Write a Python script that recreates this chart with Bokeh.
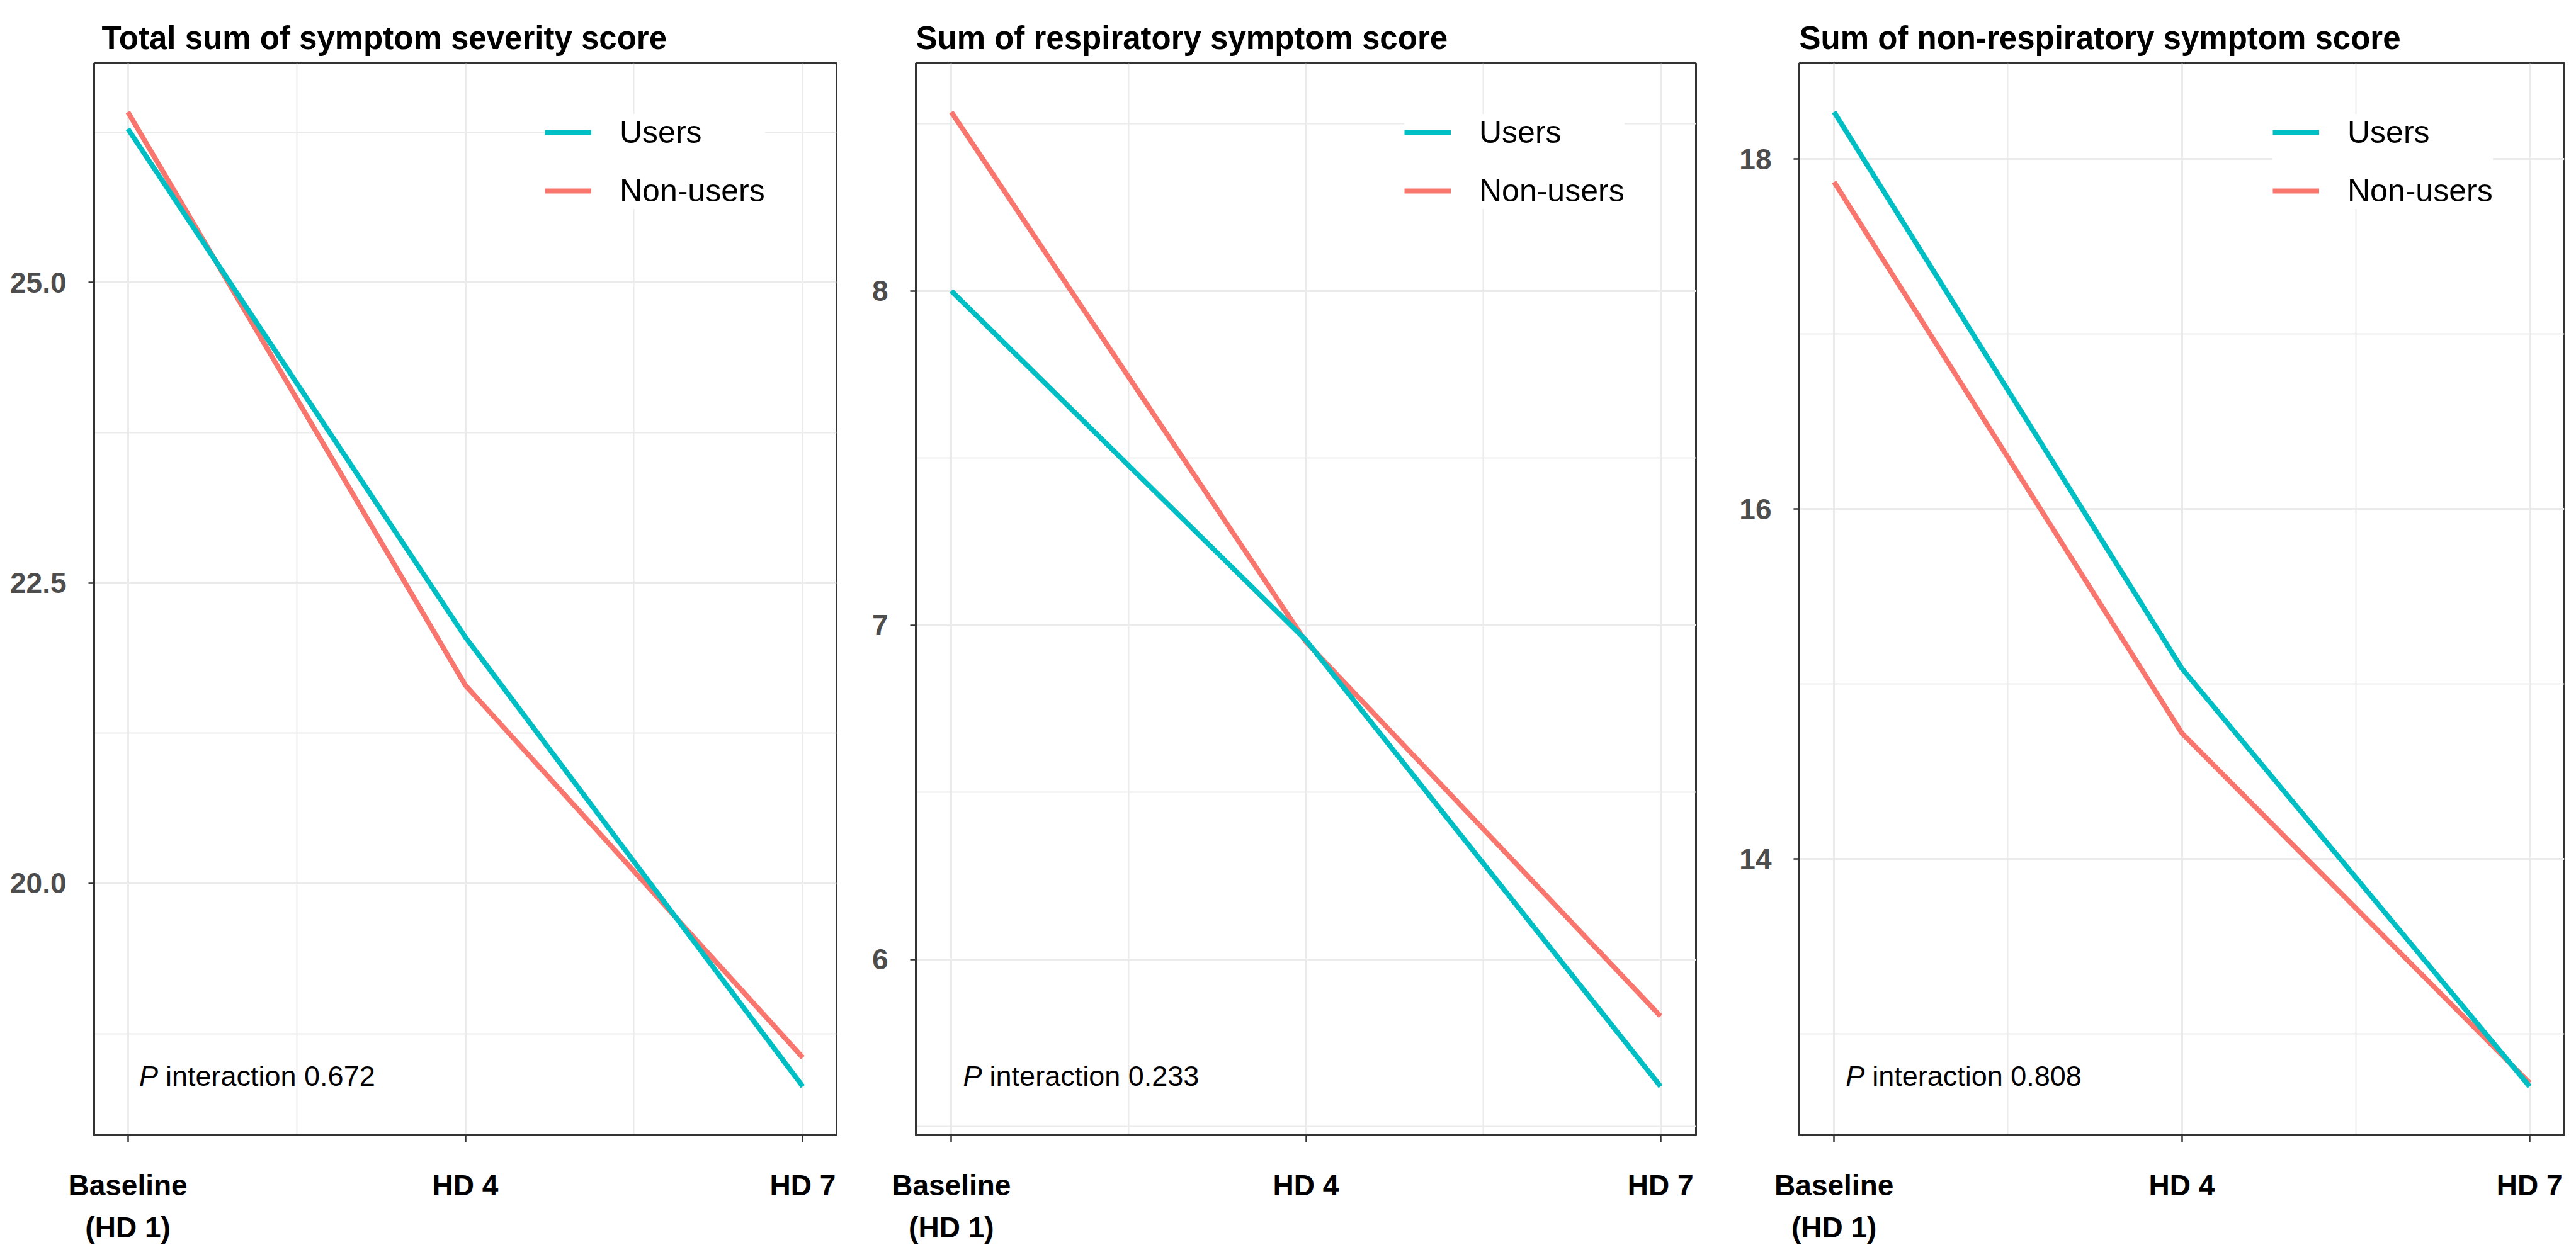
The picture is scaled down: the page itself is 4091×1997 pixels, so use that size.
from bokeh.plotting import figure
from bokeh.models import FixedTicker, Label, Legend, LegendItem
from bokeh.layouts import row
from bokeh.embed import file_html
from bokeh.resources import INLINE

# ---------------- data ----------------
days = [1, 4, 7]
day_labels = ["Baseline\n(HD 1)", "HD 4", "HD 7"]
x_minor = [2.5, 5.5]

title_total = "Total sum of symptom severity score"
title_resp = "Sum of respiratory symptom score"
title_nonresp = "Sum of non-respiratory symptom score"

users_total = [26.28, 22.05, 18.31]
nonusers_total = [26.42, 21.65, 18.55]

users_resp = [8.00, 6.955, 5.62]
nonusers_resp = [8.535, 6.95, 5.83]

users_nonresp = [18.27, 15.09, 12.70]
nonusers_nonresp = [17.87, 14.72, 12.72]

p_total = "0.672"
p_resp = "0.233"
p_nonresp = "0.808"

yticks_total = [20.0, 22.5, 25.0]
ylabels_total = ["20.0", "22.5", "25.0"]
yminor_total = [18.75, 21.25, 23.75, 26.25]

yticks_resp = [6, 7, 8]
ylabels_resp = ["6", "7", "8"]
yminor_resp = [5.5, 6.5, 7.5, 8.5]

yticks_nonresp = [14, 16, 18]
ylabels_nonresp = ["14", "16", "18"]
yminor_nonresp = [13, 15, 17]

series_names = ["Users", "Non-users"]
series_colors = ["#00BFC4", "#F8766D"]

# ---------------- styling ----------------
FONT = "Liberation Sans"
H = 1981
TOP = 100
BOTTOM = 178


def make_panel(title, users, nonusers, yticks, ylabels, yminor, pval,
               width, left, right, title_offset):
    allv = users + nonusers
    lo, hi = min(allv), max(allv)
    pad = 0.05 * (hi - lo)
    xlo, xhi = min(days), max(days)
    xpad = 0.05 * (xhi - xlo)
    ylo, yhi = lo - pad, hi + pad

    p = figure(width=width, height=H,
               x_range=(xlo - xpad, xhi + xpad), y_range=(ylo, yhi),
               output_backend="svg", toolbar_location=None,
               min_border_left=left, min_border_right=right,
               min_border_top=TOP, min_border_bottom=BOTTOM,
               background_fill_color="white", border_fill_color="white",
               outline_line_color="#333333", outline_line_width=3)

    # title
    p.title.text = title
    p.title.text_font = FONT
    p.title.text_font_size = "51px"
    p.title.text_font_style = "bold"
    p.title.text_color = "black"
    p.title.align = "left"
    p.title.offset = title_offset
    p.title.standoff = 24

    # x axis
    p.xaxis.ticker = FixedTicker(ticks=days, minor_ticks=x_minor)
    p.xaxis.major_label_overrides = {d: lab for d, lab in zip(days, day_labels)}
    p.xaxis.major_label_text_font = FONT
    p.xaxis.major_label_text_font_size = "46px"
    p.xaxis.major_label_text_font_style = "bold"
    p.xaxis.major_label_text_color = "black"
    p.xaxis.major_label_text_line_height = 1.3
    p.xaxis.major_label_standoff = 42
    p.xaxis.major_tick_in = 0
    p.xaxis.major_tick_out = 11

    # y axis
    p.yaxis.ticker = FixedTicker(ticks=yticks, minor_ticks=yminor)
    p.yaxis.major_label_overrides = {t: lab for t, lab in zip(yticks, ylabels)}
    p.yaxis.major_label_text_font = FONT
    p.yaxis.major_label_text_font_size = "46px"
    p.yaxis.major_label_text_font_style = "bold"
    p.yaxis.major_label_text_color = "#4D4D4D"
    p.yaxis.major_label_standoff = 35
    p.yaxis.major_tick_in = 0
    p.yaxis.major_tick_out = 9

    for ax in (p.xaxis, p.yaxis):
        ax.axis_line_color = "#333333"
        ax.axis_line_width = 3
        ax.major_tick_line_color = "#333333"
        ax.major_tick_line_width = 2.5
        ax.minor_tick_line_color = None

    for g in (p.xgrid, p.ygrid):
        g.grid_line_color = "#EBEBEB"
        g.grid_line_width = 3
        g.minor_grid_line_color = "#EBEBEB"
        g.minor_grid_line_width = 2

    # lines (non-users below, users on top)
    r_non = p.line(days, nonusers, line_color=series_colors[1], line_width=8)
    r_usr = p.line(days, users, line_color=series_colors[0], line_width=8)

    fw = width - left - right
    fh = H - TOP - BOTTOM
    legend = Legend(items=[LegendItem(label=series_names[0], renderers=[r_usr]),
                           LegendItem(label=series_names[1], renderers=[r_non])],
                    location=(fw - 463, fh - 232), margin=0,
                    padding=35, spacing=35, glyph_width=74, glyph_height=50,
                    label_height=50, label_standoff=45,
                    label_text_font=FONT, label_text_font_size="50px",
                    label_text_color="black",
                    background_fill_color="white", background_fill_alpha=1.0,
                    border_line_color=None)
    p.add_layout(legend)

    ypos = ylo + 0.055 * (yhi - ylo)
    p.add_layout(Label(x=1.1, y=ypos, text="P", text_font=FONT,
                       text_font_size="45px", text_font_style="italic",
                       text_align="left", text_baseline="middle",
                       text_color="black"))
    p.add_layout(Label(x=1.1, y=ypos, x_offset=42, text="interaction " + pval,
                       text_font=FONT, text_font_size="45px",
                       text_align="left", text_baseline="middle",
                       text_color="black"))
    return p


p1 = make_panel(title_total, users_total, nonusers_total, yticks_total,
                ylabels_total, yminor_total, p_total, 1377, 149, 49, 12)
p2 = make_panel(title_resp, users_resp, nonusers_resp, yticks_resp,
                ylabels_resp, yminor_resp, p_resp, 1380, 77, 64, 0)
p3 = make_panel(title_nonresp, users_nonresp, nonusers_nonresp, yticks_nonresp,
                ylabels_nonresp, yminor_nonresp, p_nonresp, 1318, 100, 3, 0)

layout = row(p1, p2, p3, spacing=0)
open("out.html", "w").write(file_html(layout, INLINE))
